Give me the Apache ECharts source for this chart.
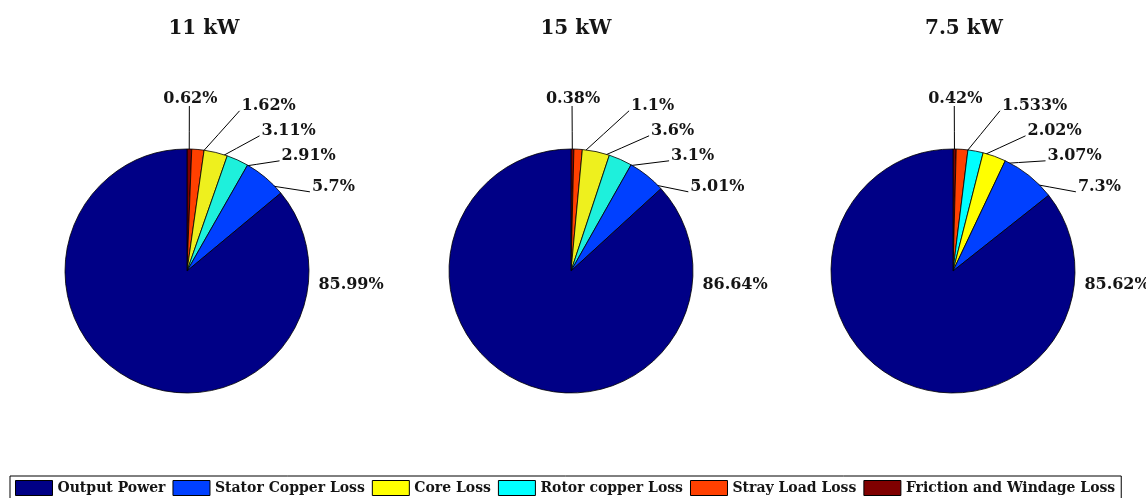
<!DOCTYPE html>
<html>
<head>
<meta charset="utf-8">
<script src="https://cdn.jsdelivr.net/npm/echarts@6/dist/echarts.min.js"></script>
<style>
  html, body { margin: 0; padding: 0; background: #fff; }
  #chart { width: 1146px; height: 498px; }
</style>
</head>
<body>
<div id="chart"></div>
<script>
// Loss breakdown (percent of input power) for three motor ratings
const categories = ['Output Power', 'Stator Copper Loss', 'Core Loss', 'Rotor copper Loss', 'Stray Load Loss', 'Friction and Windage Loss'];
const ratings = ['11 kW', '15 kW', '7.5 kW'];

// one value per rating, in the order of `ratings`
const outputPower   = [85.99, 86.64, 85.62];
const statorCopper  = [5.7, 5.01, 7.3];
const coreLoss      = [3.11, 3.6, 3.07];
const rotorCopper   = [2.91, 3.1, 2.02];
const strayLoad     = [1.62, 1.1, 1.533];
const frictionWind  = [0.62, 0.38, 0.42];

// clockwise slice order from 12 o'clock, as indices into `categories`
const sliceOrder = [
  [5, 4, 2, 3, 1, 0],
  [5, 4, 2, 3, 1, 0],
  [5, 4, 3, 2, 1, 0]
];

const legendColors = ['#000086', '#0040FF', '#FFFF00', '#00FFFF', '#FF4000', '#800000'];
const pieColors = [
  ['#000086', '#0040FF', '#EEF01E', '#1EF0DC', '#FF4000', '#800000'],
  ['#000086', '#0040FF', '#EEF01E', '#1EF0DC', '#FF4000', '#800000'],
  ['#000086', '#0040FF', '#FFFF00', '#00FFFF', '#FF4000', '#800000']
];

// layout
const pieCentersX = [187, 571, 953];
const PIE_CY = 271;
const PIE_R = 122;
const titleCentersX = [199, 571, 959];
const FONT = 'DejaVu Serif';

const valueSets = [outputPower, statorCopper, coreLoss, rotorCopper, strayLoad, frictionWind];

// Callout slots for the small slices: the first label sits straight above its
// slice, the following ones step down and outwards so neighbours never collide;
// each leader starts just inside the rim at the slice's mid-angle.
const LABEL_R = 172, INNER = 0.93;
const STEP_GAPS = [0, 7, 25, 25, 31];
function calloutSlots(values, cx, cy, r) {
  const total = values.reduce((a, b) => a + b, 0);
  let acc = 0, prevDy = null;
  return values.map((v, k) => {
    const mid = (acc + v / 2) / total * Math.PI * 2;
    acc += v;
    const s = Math.sin(mid), c = Math.cos(mid);
    const inner = [cx + INNER * r * s, cy - INNER * r * c];
    if (k === values.length - 1) return { big: true };
    let dy = -LABEL_R * c;
    if (k > 0) dy = Math.max(dy, prevDy + STEP_GAPS[k]);
    prevDy = dy;
    const dx = k === 0 ? LABEL_R * s : 80 + 0.8 * (dy + 167);
    return { top: k === 0, x: cx + dx, y: cy + dy, inner: inner };
  });
}

const series = ratings.map((r, i) => {
  const order = sliceOrder[i];
  const values = order.map(ci => valueSets[ci][i]);
  const slots = calloutSlots(values, pieCentersX[i], PIE_CY, PIE_R);
  const data = order.map((ci, k) => {
    const item = {
      name: categories[ci],
      value: values[k],
      itemStyle: { color: pieColors[i][ci] }
    };
    if (ci === 0) item.labelLine = { show: false };
    return item;
  });
  return {
    type: 'pie',
    name: r,
    center: [pieCentersX[i], PIE_CY],
    radius: PIE_R,
    startAngle: 90,
    clockwise: true,
    avoidLabelOverlap: false,
    silent: true,
    data: data,
    itemStyle: { borderColor: '#000', borderWidth: 0.8 },
    label: {
      show: true,
      position: 'outside',
      formatter: '{c}%',
      fontFamily: FONT,
      fontWeight: 'bold',
      fontSize: 16,
      color: '#151515'
    },
    labelLine: {
      show: true,
      length: 30,
      length2: 5,
      smooth: false,
      lineStyle: { color: '#000', width: 1 }
    },
    labelLayout: function (p) {
      const slot = slots[p.dataIndex];
      const w = p.labelRect.width, h = p.labelRect.height;
      if (slot.big) {
        return {
          x: p.rect.x + p.rect.width + 9,
          y: PIE_CY + 14,
          align: 'left',
          verticalAlign: 'middle'
        };
      }
      let end;
      if (slot.top) {
        end = [slot.x - 1, slot.y + h / 2 - 1];
      } else {
        end = [slot.x - w / 2 - 2, slot.y + h * 0.3];
      }
      const midPt = [(slot.inner[0] + end[0]) / 2, (slot.inner[1] + end[1]) / 2];
      return {
        x: slot.x,
        y: slot.y,
        align: 'center',
        verticalAlign: 'middle',
        labelLinePoints: [slot.inner, midPt, end]
      };
    },
    emphasis: { disabled: true }
  };
});

const chart = echarts.init(document.getElementById('chart'), null, { renderer: 'canvas' });
chart.setOption({
  animation: false,
  backgroundColor: '#fff',
  title: ratings.map((r, i) => ({
    text: r,
    left: titleCentersX[i],
    top: 14,
    textAlign: 'center',
    textStyle: { fontFamily: FONT, fontWeight: 'bold', fontSize: 20, color: '#151515' }
  })),
  legend: {
    left: 10,
    top: 476,
    orient: 'horizontal',
    padding: [4, 6, 6, 5],
    itemWidth: 37,
    itemHeight: 15,
    itemGap: 7,
    borderColor: '#000',
    borderWidth: 1,
    backgroundColor: '#fff',
    selectedMode: false,
    textStyle: { fontFamily: FONT, fontWeight: 'bold', fontSize: 14, color: '#151515' },
    data: categories.map((c, k) => ({
      name: c,
      icon: 'rect',
      itemStyle: { color: legendColors[k], borderColor: '#000', borderWidth: 1 }
    }))
  },
  series: series
});
</script>
</body>
</html>
